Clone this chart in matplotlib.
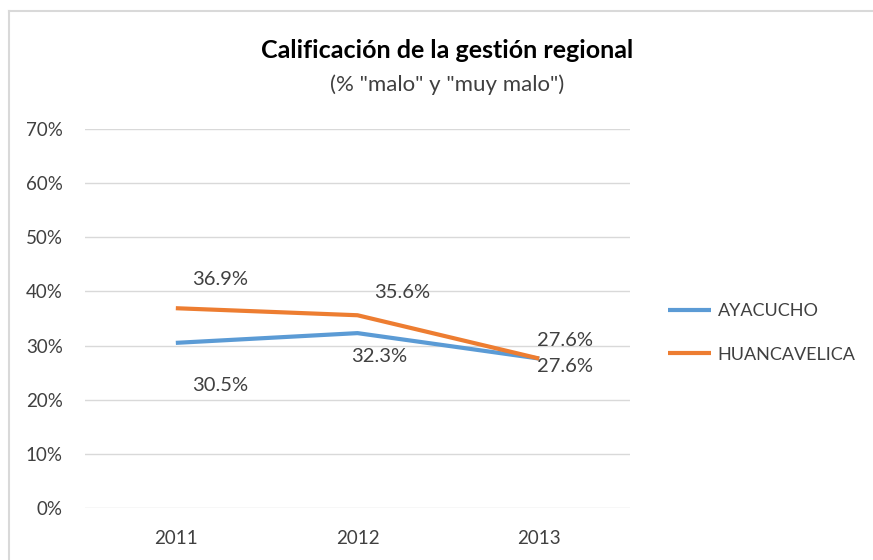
import matplotlib
matplotlib.use("Agg")
from matplotlib import pyplot as plt
from matplotlib.lines import Line2D
from matplotlib.ticker import PercentFormatter

years = ["2011", "2012", "2013"]
ayacucho = [30.5, 32.3, 27.6]
huancavelica = [36.9, 35.6, 27.6]
y_ticks = [0, 10, 20, 30, 40, 50, 60, 70]

BLUE = "#5B9BD5"
ORANGE = "#ED7D31"
GRID = "#D9D9D9"
TEXT = "#404040"

plt.rcParams["font.family"] = ["Lato", "DejaVu Sans"]

W, H = 873, 560
fig = plt.figure(figsize=(W / 100, H / 100), dpi=100)
ax = fig.add_axes([85 / W, 1 - 508 / H, (630 - 85) / W, (508 - 129) / H])

x = list(range(len(years)))
ax.plot(x, ayacucho, color=BLUE, lw=3, solid_capstyle="butt", label="AYACUCHO", zorder=3)
ax.plot(x, huancavelica, color=ORANGE, lw=3, solid_capstyle="butt", label="HUANCAVELICA", zorder=4)

ax.set_xlim(-0.5, 2.5)
ax.set_ylim(0, 70)
ax.set_yticks(y_ticks)
ax.yaxis.set_major_formatter(PercentFormatter(decimals=0))
ax.set_xticks(x)
ax.set_xticklabels(years)
ax.grid(axis="y", color=GRID, lw=1)
ax.set_axisbelow(True)
for s in ax.spines.values():
    s.set_visible(False)
ax.tick_params(length=0, labelsize=13.5, labelcolor=TEXT)
ax.tick_params(axis="y", pad=16)
ax.tick_params(axis="x", pad=16)

# data labels (pixel offsets from each point)
orange_offsets = [(44, 29), (45, 23), (26, 18)]
blue_offsets = [(44, -43), (22, -23), (26, -8)]
for i, v in enumerate(huancavelica):
    ax.annotate(f"{v:.1f}%", (i, v), xytext=orange_offsets[i], textcoords="offset pixels",
                ha="center", va="center", fontsize=14.5, color=TEXT)
for i, v in enumerate(ayacucho):
    ax.annotate(f"{v:.1f}%", (i, v), xytext=blue_offsets[i], textcoords="offset pixels",
                ha="center", va="center", fontsize=14.5, color=TEXT)

fig.text(447 / W, 1 - 50 / H, "Calificación de la gestión regional", ha="center", va="center",
         fontsize=18, fontweight="bold", color="black")
fig.text(447 / W, 1 - 85 / H, '(% "malo" y "muy malo")', ha="center", va="center",
         fontsize=16, color=TEXT)

leg = fig.legend(loc="center left", bbox_to_anchor=(668 / W, 1 - 333 / H), frameon=False,
                 fontsize=13, handlelength=2.4, handletextpad=0.35, labelspacing=1.5,
                 borderpad=0, borderaxespad=0, labelcolor=TEXT)

# chart border (left and top edges visible)
fig.add_artist(Line2D([8.5 / W, 8.5 / W], [0, 1 - 11 / H], color=GRID, lw=1.5, transform=fig.transFigure))
fig.add_artist(Line2D([8.5 / W, 1], [1 - 11 / H, 1 - 11 / H], color=GRID, lw=1.5, transform=fig.transFigure))

fig.savefig("out.png", dpi=100)
